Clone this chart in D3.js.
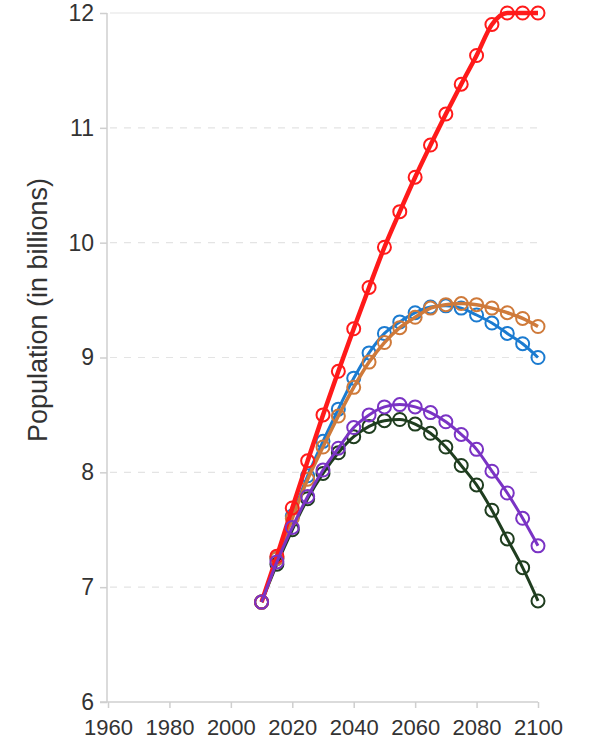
<!DOCTYPE html>
<html>
<head>
<meta charset="utf-8">
<script src="https://cdn.jsdelivr.net/npm/d3@7"></script>
<style>
  html, body { margin: 0; padding: 0; background: #fff; }
  svg { display: block; font-family: "Liberation Sans", Arial, sans-serif; }
</style>
</head>
<body>
<svg id="chart" width="607" height="745"></svg>
<script>
const years = [2010,2015,2020,2025,2030,2035,2040,2045,2050,2055,2060,2065,2070,2075,2080,2085,2090,2095,2100];
const redSeries    = [6.87,7.27,7.69,8.10,8.50,8.88,9.25,9.61,9.96,10.27,10.57,10.85,11.12,11.38,11.63,11.90,12.00,12.00,12.00];
const blueSeries   = [6.87,7.25,7.62,7.97,8.27,8.55,8.82,9.04,9.21,9.31,9.39,9.44,9.45,9.43,9.37,9.30,9.21,9.12,9.00];
const orangeSeries = [6.87,7.25,7.60,7.94,8.22,8.49,8.74,8.96,9.13,9.26,9.35,9.43,9.46,9.47,9.46,9.43,9.39,9.34,9.27];
const purpleSeries = [6.87,7.22,7.52,7.79,8.02,8.21,8.39,8.50,8.57,8.59,8.57,8.52,8.44,8.33,8.20,8.01,7.82,7.60,7.36];
const greenSeries  = [6.87,7.20,7.50,7.77,7.99,8.17,8.31,8.40,8.45,8.46,8.42,8.34,8.22,8.06,7.89,7.67,7.42,7.17,6.88];
const xTicks = [1960,1980,2000,2020,2040,2060,2080,2100];
const yTicks = [6,7,8,9,10,11,12];
const yLabel = "Population (in billions)";

const seriesList = [
  {values: greenSeries,  color: "#1f3d1f", width: 3},
  {values: blueSeries,   color: "#1b7bd0", width: 3},
  {values: orangeSeries, color: "#cf7a3a", width: 3.5},
  {values: redSeries,    color: "#ff1a1a", width: 4.5},
  {values: purpleSeries, color: "#7a33c4", width: 3}
];

const svg = d3.select("#chart");
const x = d3.scaleLinear().domain([1960, 2100]).range([108, 538]);
const y = d3.scaleLinear().domain([6, 12]).range([702, 13]);

// gridlines
svg.append("g").selectAll("line").data(yTicks.filter(d => d > 6)).join("line")
  .attr("x1", 110).attr("x2", 538)
  .attr("y1", d => y(d)).attr("y2", d => y(d))
  .attr("stroke", "#e4e4e4").attr("stroke-width", 1.2)
  .attr("stroke-dasharray", d => d === 12 ? null : "7,7");

// y axis
const yAxis = d3.axisLeft(y).tickValues(yTicks).tickFormat(d3.format("d")).tickSize(7).tickPadding(6);
const gy = svg.append("g").attr("transform", "translate(107,0)").call(yAxis);
gy.select(".domain").attr("stroke", "#cfcfcf").attr("stroke-width", 1.5).attr("d", `M0,${y(12)}V${y(6)}`);
gy.selectAll(".tick line").attr("stroke", "#cfcfcf").attr("stroke-width", 1.5);
gy.selectAll(".tick text").attr("fill", "#333").style("font-size", "23px").style("font-family", "Liberation Sans, Arial, sans-serif");

// x axis
const xAxis = d3.axisBottom(x).tickValues(xTicks).tickFormat(d3.format("d")).tickSize(6).tickPadding(11);
const gx = svg.append("g").attr("transform", `translate(0,${y(6)})`).call(xAxis);
gx.select(".domain").attr("stroke", "#cfcfcf").attr("stroke-width", 1.5).attr("d", `M100,0H${x(2100)}`);
gx.selectAll(".tick line").attr("stroke", "#cfcfcf").attr("stroke-width", 1.5);
gx.selectAll(".tick text").attr("fill", "#333").style("font-size", "22px").style("font-family", "Liberation Sans, Arial, sans-serif");

// y label
svg.append("text")
  .attr("transform", "translate(47,310) rotate(-90)")
  .attr("text-anchor", "middle")
  .attr("fill", "#333")
  .style("font-size", "27px")
  .text(yLabel);

const line = d3.line().x((d, i) => x(years[i])).y(d => y(d)).curve(d3.curveMonotoneX);

seriesList.forEach(s => {
  const g = svg.append("g");
  g.append("path").datum(s.values)
    .attr("d", line).attr("fill", "none")
    .attr("stroke", s.color).attr("stroke-width", s.width)
    .attr("stroke-linejoin", "round");
  g.selectAll("circle").data(s.values).join("circle")
    .attr("cx", (d, i) => x(years[i])).attr("cy", d => y(d))
    .attr("r", 6.5).attr("fill", "none")
    .attr("stroke", s.color).attr("stroke-width", 2);
});
</script>
</body>
</html>
